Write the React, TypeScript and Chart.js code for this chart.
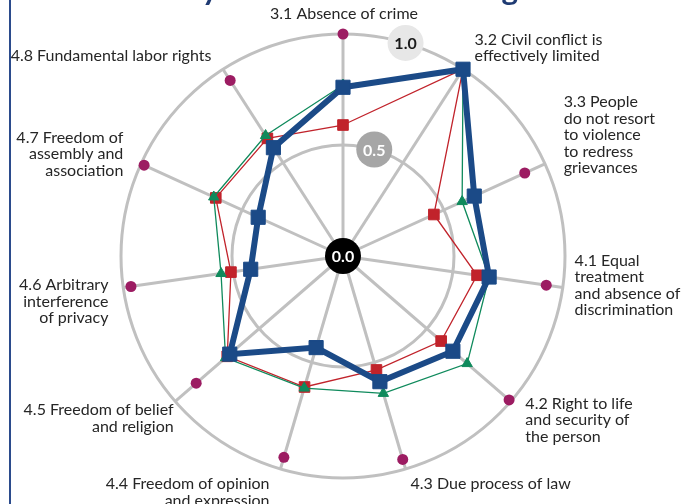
import React, { useEffect, useRef } from 'react';
import { Chart, registerables } from 'chart.js';

Chart.register(...registerables);

const CATEGORIES: string[][] = [
  ['3.1 Absence of crime'],
  ['3.2 Civil conflict is', 'effectively limited'],
  ['3.3 People', 'do not resort', 'to violence', 'to redress', 'grievances'],
  ['4.1 Equal', 'treatment', 'and absence of', 'discrimination'],
  ['4.2 Right to life', 'and security of', 'the person'],
  ['4.3 Due process of law'],
  ['4.4 Freedom of opinion', 'and expression'],
  ['4.5 Freedom of belief', 'and religion'],
  ['4.6 Arbitrary', 'interference', 'of privacy'],
  ['4.7 Freedom of', 'assembly and', 'association'],
  ['4.8 Fundamental labor rights'],
];

// thick dark-blue series (squares)
const SERIES_BLUE = [0.76, 1.0, 0.65, 0.665, 0.655, 0.59, 0.43, 0.675, 0.42, 0.42, 0.58];
// thin green series (triangles)
const SERIES_GREEN = [0.77, 1.0, 0.59, 0.665, 0.74, 0.645, 0.62, 0.7, 0.555, 0.64, 0.645];
// thin red series (squares)
const SERIES_RED = [0.59, 1.0, 0.45, 0.61, 0.585, 0.535, 0.615, 0.69, 0.51, 0.63, 0.63];
// purple dots (no line)
const SERIES_PURPLE = [1.0, 1.0, 0.9, 0.925, 0.99, 0.955, 0.945, 0.875, 0.965, 0.985, 0.94];

const TICK_VALUES = [0, 0.5, 1.0];
const TICK_LABELS = ['0.0', '0.5', '1.0'];
const TICK_FILLS = ['#000000', '#a6a6a6', '#e7e7e7'];
const TICK_TEXT = ['#ffffff', '#ffffff', '#1a1a1a'];

const TITLE = 'Security and Fundamental Rights';

// label layout tweaks (pixels) relative to the anchor just outside the outer ring
const LABEL_NUDGE: number[][] = [
  [1, -6], [4, -9.5], [6, -23], [-2, -4], [4, 9.5], [1, 1],
  [-7, 10], [9, 8], [-1, 12], [-5, -4], [-4, -2],
];

const FONT = 'Lato, "Open Sans", sans-serif';

const decorPlugin = {
  id: 'decor',
  beforeDatasetsDraw(chart: any) {
    const r = chart.scales.r;
    const ctx = chart.ctx;
    ctx.save();
    TICK_VALUES.forEach((v, k) => {
      const d = r.getDistanceFromCenterForValue(v);
      const p = r.getPointPosition(0.5, d);
      ctx.beginPath();
      ctx.arc(p.x, p.y, 18, 0, Math.PI * 2);
      ctx.fillStyle = TICK_FILLS[k];
      ctx.fill();
      ctx.font = `bold 16px ${FONT}`;
      ctx.fillStyle = TICK_TEXT[k];
      ctx.textAlign = 'center';
      ctx.textBaseline = 'middle';
      ctx.fillText(TICK_LABELS[k], p.x, p.y + 1);
    });
    ctx.restore();
  },
  afterDraw(chart: any) {
    const r = chart.scales.r;
    const ctx = chart.ctx;
    ctx.save();
    // category labels
    ctx.font = `16px ${FONT}`;
    ctx.fillStyle = '#262626';
    ctx.textBaseline = 'middle';
    const lineH = 16.5;
    CATEGORIES.forEach((lines, i) => {
      const p = r.getPointPosition(i, r.drawingArea + 14);
      const dx = p.x - r.xCenter;
      const align = Math.abs(dx) < 4 ? 'center' : dx > 0 ? 'left' : 'right';
      const [nx, ny] = LABEL_NUDGE[i];
      const x = p.x + nx;
      const top = p.y + ny - ((lines.length - 1) * lineH) / 2;
      ctx.textAlign = align;
      lines.forEach((ln, k) => ctx.fillText(ln, x, top + k * lineH));
    });

    // cut-off title at top
    ctx.fillStyle = '#1f3b73';
    ctx.textAlign = 'left';
    ctx.textBaseline = 'alphabetic';
    ctx.font = `bold 100px ${FONT}`;
    const yIdx = TITLE.indexOf('y');
    const gIdx = TITLE.indexOf('g');
    const w = (s: string) => ctx.measureText(s).width;
    const yC = w(TITLE.slice(0, yIdx)) + w('y') / 2;
    const gC = w(TITLE.slice(0, gIdx)) + w('g') / 2;
    const size = (100 * 300) / (gC - yC);
    ctx.font = `bold ${size}px ${FONT}`;
    const yC2 = w(TITLE.slice(0, yIdx)) + w('y') / 2;
    ctx.fillText(TITLE, 210 - yC2, 0);

    // left border
    ctx.strokeStyle = '#2b4b8c';
    ctx.lineWidth = 2;
    ctx.beginPath();
    ctx.moveTo(10, 0);
    ctx.lineTo(10, chart.height);
    ctx.stroke();
    ctx.restore();
  },
};

export default function App() {
  const ref = useRef<HTMLCanvasElement>(null);
  useEffect(() => {
    if (!ref.current) return;
    const chart = new Chart(ref.current, {
      type: 'radar',
      data: {
        labels: CATEGORIES,
        datasets: [
          {
            data: SERIES_BLUE,
            borderColor: '#1b4a87',
            backgroundColor: '#1b4a87',
            borderWidth: 6,
            pointStyle: 'rect',
            pointRadius: 10,
            pointBorderWidth: 1,
            fill: false,
            order: 1,
          },
          {
            data: SERIES_GREEN,
            borderColor: '#0f8a5c',
            backgroundColor: '#0f8a5c',
            borderWidth: 1.3,
            pointStyle: 'triangle',
            pointRadius: 6,
            pointBorderWidth: 1,
            fill: false,
            order: 2,
          },
          {
            data: SERIES_RED,
            borderColor: '#c1232b',
            backgroundColor: '#c1232b',
            borderWidth: 1.3,
            pointStyle: 'rect',
            pointRadius: 7.5,
            pointBorderWidth: 1,
            fill: false,
            order: 3,
          },
          {
            data: SERIES_PURPLE,
            borderColor: '#9c1c62',
            backgroundColor: '#9c1c62',
            showLine: false,
            pointStyle: 'circle',
            pointRadius: 5.5,
            pointBorderWidth: 0,
            fill: false,
            order: 4,
          },
        ],
      },
      options: {
        animation: false,
        responsive: false,
        events: [],
        layout: { padding: { left: 121, right: 129, top: 34, bottom: 26 } },
        elements: { line: { tension: 0 } },
        plugins: { legend: { display: false }, tooltip: { enabled: false }, title: { display: false } },
        scales: {
          r: {
            min: 0,
            max: 1,
            ticks: { display: false, stepSize: 0.5 },
            grid: { circular: true, color: '#c0c0c0', lineWidth: 3 },
            angleLines: { color: '#c0c0c0', lineWidth: 3 },
            pointLabels: { display: false },
          },
        },
      },
      plugins: [decorPlugin],
    } as any);
    return () => chart.destroy();
  }, []);
  return (
    <div style={{ position: 'fixed', left: 0, top: 0, width: 694, height: 504, background: '#fff' }}>
      <canvas ref={ref} width={694} height={504} style={{ display: 'block' }} />
    </div>
  );
}
